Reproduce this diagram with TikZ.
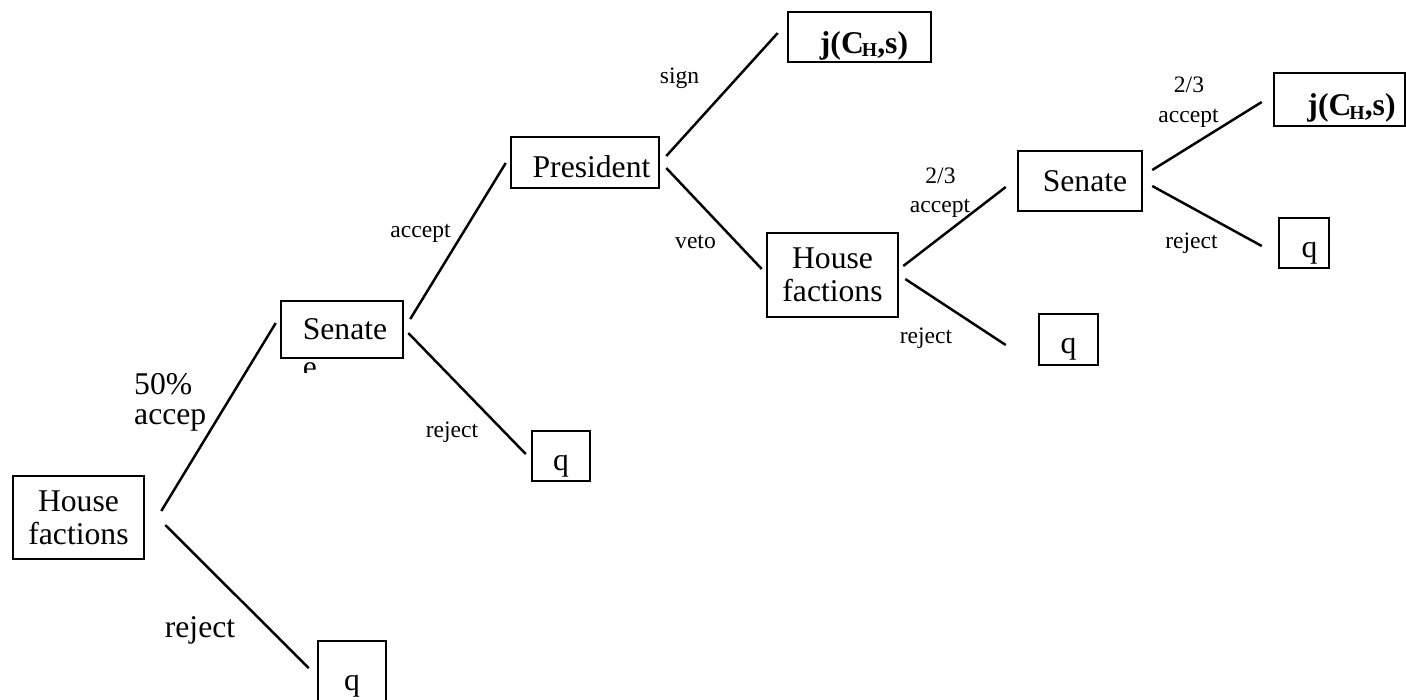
\documentclass[tikz,border=0pt]{standalone}
\usepackage{fontspec}
\setmainfont{Liberation Serif}
\newcommand{\bigsz}{\fontsize{9}{9.4}\selectfont}
\newcommand{\smallsz}{\fontsize{6.7}{8}\selectfont}
\newcommand{\jval}{{\bfseries j(C\kern-0.06em\raisebox{-0.1em}{\fontsize{5.6}{6}\selectfont H},s)}}

\begin{document}
\begin{tikzpicture} [x=0.01cm,y=-0.01cm,line width=0.7pt,myb/.style={rectangle, draw, inner sep=0pt, font=\bigsz, align=center},myq/.style={myb, text height=8pt, text depth=0pt},myj/.style={myb, text height=9.3pt, text depth=0pt},myl/.style={inner sep=0pt, anchor=base, font=\smallsz},myl1/.style={inner sep=0pt, anchor=base, font=\bigsz}]
  \useasboundingbox (0,0) rectangle (1406,699);

  \node[myb, minimum width=1.31cm, minimum height=0.83cm] (hf1) at (78.5,517.5) {House\\factions};
  \node[myb, minimum width=1.22cm, minimum height=0.57cm] (sen1) at (342,329.5) {\hspace*{0.06cm}Senate};
  \node[myb, minimum width=1.48cm, minimum height=0.51cm, text height=8.6pt, text depth=0pt] (pres) at (585,162.5) {\hspace*{0.13cm}President};
  \node[myj, minimum width=1.43cm, minimum height=0.50cm] (j1) at (859.5,37) {\hspace*{0.09cm}\jval};
  \node[myb, minimum width=1.31cm, minimum height=0.84cm] (hf2) at (832.5,275) {House\\factions};
  \node[myb, minimum width=1.24cm, minimum height=0.60cm] (sen2) at (1080,181) {\hspace*{0.1cm}Senate};
  \node[myj, minimum width=1.31cm, minimum height=0.53cm] (j2) at (1339.5,99.5) {\hspace*{0.24cm}\jval};

  \node[myq, minimum width=0.68cm, minimum height=0.70cm] (q1) at (352,676) {q};
  \node[myq, minimum width=0.59cm, minimum height=0.51cm] (q2) at (1068.5,339.5) {q};
  \node[myq, minimum width=0.50cm, minimum height=0.50cm] (q3) at (1304,243) {\hspace*{0.11cm}q};
  \node[myq, minimum width=0.58cm, minimum height=0.50cm] (q4) at (561,456) {q};

  % cut-off letter under the first Senate box
  \begin{scope}
    \clip (295,359) rectangle (325,372);
    \node[myl1] (e1) at (310,377) {e};
  \end{scope}

    \draw ([shift={(16,-6.5)}]hf1.east) -- ([shift={(-4,-6.5)}]sen1.west);
    \draw ([shift={(20,7.5)}]hf1.east) -- ([shift={(-8,-8)}]q1.west);
    \draw ([shift={(6,-10.5)}]sen1.east) -- ([shift={(-4,0.5)}]pres.west);
    \draw ([shift={(4,3.5)}]sen1.east) -- ([shift={(-5,-2)}]q4.west);
    \draw ([shift={(6,-6.5)}]pres.east) -- ([shift={(-9,-4)}]j1.west);
    \draw ([shift={(6,5.5)}]pres.east) -- ([shift={(-4,-6)}]hf2.west);
    \draw ([shift={(4,-9)}]hf2.east) -- ([shift={(-11,6)}]sen2.west);
    \draw ([shift={(6,4)}]hf2.east) -- ([shift={(-32,5.5)}]q2.west);
    \draw ([shift={(9,-11)}]sen2.east) -- ([shift={(-11,2.5)}]j2.west);
    \draw ([shift={(9,5)}]sen2.east) -- ([shift={(-16,3)}]q3.west);

  \node[myl1, anchor=base west] (l1a) at (133,394) {50\%};
  \node[myl1, anchor=base west] (l1b) at (133,424) {accep};
  \node[myl1] (l2) at (200,637) {reject};
  \node[myl] (l3) at (420.5,237) {accept};
  \node[myl] (l4) at (452,437) {reject};
  \node[myl] (l5) at (679.5,83) {sign};
  \node[myl] (l6) at (695.5,248) {veto};
  \node[myl] (l7a) at (940.5,183) {2/3};
  \node[myl] (l7b) at (940,212) {accept};
  \node[myl] (l8) at (926,343) {reject};
  \node[myl] (l9a) at (1189,92) {2/3};
  \node[myl] (l9b) at (1188.5,122) {accept};
  \node[myl] (l10) at (1191.5,248) {reject};

\end{tikzpicture}
\end{document}
